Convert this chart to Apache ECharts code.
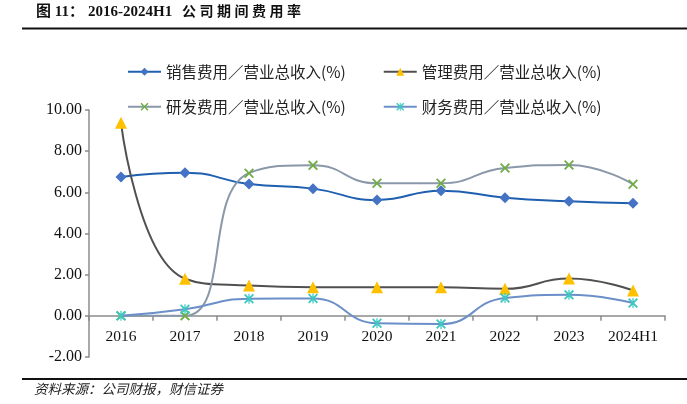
<!DOCTYPE html>
<html><head><meta charset="utf-8">
<script src="https://cdn.jsdelivr.net/npm/echarts@6/dist/echarts.min.js"></script>
<style>html,body{margin:0;padding:0;background:#fff}#c{width:687px;height:404px}</style>
</head><body><div id="c"></div>
<script>
const categories = ['2016','2017','2018','2019','2020','2021','2022','2023','2024H1'];
const salesRatio = [6.75, 6.95, 6.40, 6.18, 5.63, 6.08, 5.74, 5.57, 5.47];
const adminRatio = [9.38, 1.80, 1.47, 1.39, 1.39, 1.39, 1.31, 1.81, 1.23];
const rdRatio = [0.00, 0.00, 6.93, 7.31, 6.44, 6.44, 7.18, 7.33, 6.39];
const financeRatio = [0.00, 0.32, 0.83, 0.84, -0.36, -0.40, 0.87, 1.02, 0.62];
const seriesNames = ['销售费用／营业总收入(%)','管理费用／营业总收入(%)','研发费用／营业总收入(%)','财务费用／营业总收入(%)'];
const yTicks = {min: -2, max: 10, interval: 2};

const X_PATH = 'path://M0,1.3L1.3,0L5,3.7L8.7,0L10,1.3L6.3,5L10,8.7L8.7,10L5,6.3L1.3,10L0,8.7L3.7,5Z';
const AST_PATH = 'path://M0,1.3L1.3,0L5,3.7L8.7,0L10,1.3L6.3,5L10,8.7L8.7,10L5,6.3L1.3,10L0,8.7L3.7,5Z M4.4,0L5.6,0L5.6,10L4.4,10Z';

const chart = echarts.init(document.getElementById('c'));
const serif = '"Liberation Serif", "Noto Sans CJK SC", serif';
const cjk = '"Noto Sans CJK SC", sans-serif';
function mk(name, data, lineColor, symbol, symColor, size) {
  return {
    name, type: 'line', data, smooth: 0.5, symbol, symbolSize: size,
    lineStyle: {color: lineColor, width: 2},
    itemStyle: {color: symColor, borderWidth: 0},
    emphasis: {disabled: true}
  };
}
const legendText = {fontFamily: cjk, fontSize: 15.5, color: '#222'};
chart.setOption({
  animation: false,
  grid: {left: 89, right: 22, top: 110, bottom: 47},
  legend: [
    {data: [seriesNames[0], seriesNames[1]], top: 59, left: 122, itemGap: 37, itemWidth: 33, itemHeight: 10, textStyle: legendText},
    {data: [seriesNames[2], seriesNames[3]], top: 94, left: 122, itemGap: 37, itemWidth: 33, itemHeight: 10, textStyle: legendText}
  ],
  xAxis: {
    type: 'category', data: categories, boundaryGap: true,
    axisLine: {onZero: true, lineStyle: {color: '#8c8c8c', width: 1.5}},
    axisTick: {show: true, length: 5, lineStyle: {color: '#8c8c8c', width: 1.5}},
    axisLabel: {fontFamily: serif, fontSize: 15.5, color: '#111', margin: -28, interval: 0, hideOverlap: false}
  },
  yAxis: {
    type: 'value', min: yTicks.min, max: yTicks.max, interval: yTicks.interval,
    axisLine: {show: true, lineStyle: {color: '#8c8c8c', width: 1.5}},
    axisTick: {show: true, length: 4, lineStyle: {color: '#8c8c8c', width: 1.5}},
    splitLine: {show: false},
    axisLabel: {fontFamily: serif, fontSize: 16, color: '#111', margin: 7, formatter: v => v.toFixed(2)}
  },
  series: [
    mk(seriesNames[0], salesRatio, '#1f5fb0', 'diamond', '#4472c4', 11),
    mk(seriesNames[1], adminRatio, '#505050', 'triangle', '#ffc000', 12),
    mk(seriesNames[2], rdRatio, '#8a98aa', X_PATH, '#70ad47', 10),
    mk(seriesNames[3], financeRatio, '#6b8fc8', AST_PATH, '#3cc8c0', 10)
  ],
  graphic: [
    {type: 'text', left: 36, top: 5, style: {text: '图 11：', font: 'bold 15px "Liberation Serif", "Noto Sans CJK SC", serif', fill: '#111'}},
    {type: 'text', left: 88, top: 5, style: {text: '2016-2024H1', font: 'bold 15px "Liberation Serif", serif', fill: '#111'}},
    {type: 'text', left: 182, top: 5, style: {text: '公 司 期 间 费 用 率', font: 'bold 14px "Liberation Serif", "Noto Sans CJK SC", serif', fill: '#111'}},
    {type: 'rect', shape: {x: 22, y: 27.5, width: 665, height: 2}, style: {fill: '#111'}},
    {type: 'rect', shape: {x: 22, y: 378, width: 665, height: 2}, style: {fill: '#111'}},
    {type: 'text', left: 34, top: 382, style: {text: '资料来源：公司财报，财信证券', font: 'italic 13.5px "Noto Sans CJK SC", sans-serif', fill: '#222'}}
  ]
});
</script></body></html>
